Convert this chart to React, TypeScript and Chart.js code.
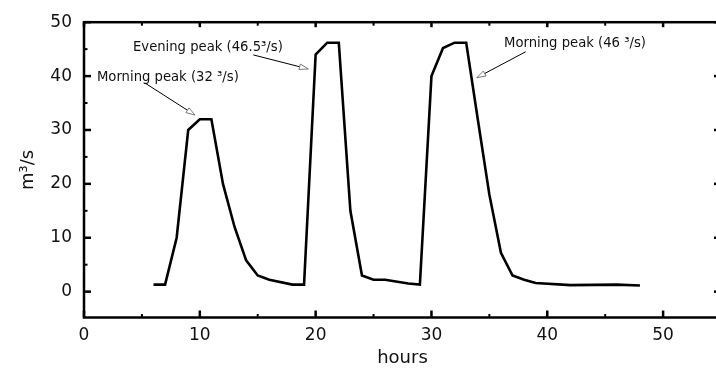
import React, { useEffect, useRef } from "react";
import { Chart, registerables } from "chart.js";

Chart.register(...registerables);

// ---- data ----
const HOURS = [6, 7, 8, 9, 10, 11, 12, 13, 14, 15, 16, 18, 19, 20, 21, 22, 23, 24, 25, 26, 28, 29, 30, 31, 32, 33, 34, 35, 36, 37, 38, 39, 42, 46, 48];
const FLOW = [1.3, 1.3, 10, 30, 32, 32, 20, 12, 5.8, 3, 2.2, 1.3, 1.3, 44, 46.2, 46.2, 15, 3, 2.2, 2.2, 1.5, 1.3, 40, 45.2, 46.2, 46.2, 32, 18, 7.2, 3, 2.2, 1.6, 1.2, 1.3, 1.15];

const X_TICKS = [0, 10, 20, 30, 40, 50];
const X_MINOR = [5, 15, 25, 35, 45];
const Y_TICKS = [0, 10, 20, 30, 40, 50];
const Y_MINOR = [5, 15, 25, 35, 45];

const X_TITLE = "hours";
const Y_TITLE = "m³/s";

const NOTE_TEXT = ["Morning peak (32 ³/s)", "Evening peak (46.5³/s)", "Morning peak (46 ³/s)"];
const NOTE_AT = [[1.12, 39.1], [4.23, 44.7], [36.27, 45.4]];
const ARROW_FROM = [[5.27, 38.7], [14.62, 43.93], [38.14, 44.52]];
const ARROW_TO = [[9.59, 32.76], [19.37, 41.32], [33.91, 39.7]];

const FONT = "'DejaVu Sans', Verdana, sans-serif";

const framePlugin = {
  id: "framePlugin",
  afterDraw(chart: any) {
    const { ctx, chartArea } = chart;
    const xs = chart.scales.x;
    const ys = chart.scales.y;
    const { left, right, top, bottom } = chartArea;
    ctx.save();
    ctx.strokeStyle = "#000";
    ctx.lineWidth = 2.5;
    ctx.lineCap = "butt";
    ctx.strokeRect(left, top, right - left, bottom - top);

    const tick = (x1: number, y1: number, x2: number, y2: number, w: number) => {
      ctx.lineWidth = w;
      ctx.beginPath();
      ctx.moveTo(x1, y1);
      ctx.lineTo(x2, y2);
      ctx.stroke();
    };
    const MAJ = 7, MIN = 3.5;
    X_TICKS.forEach((v) => {
      const px = xs.getPixelForValue(v);
      tick(px, bottom, px, bottom - MAJ, 2.5);
      tick(px, top, px, top + 5, 2.5);
    });
    X_MINOR.forEach((v) => {
      const px = xs.getPixelForValue(v);
      tick(px, bottom, px, bottom - MIN, 2);
      tick(px, top, px, top + MIN, 2);
    });
    Y_TICKS.forEach((v) => {
      const py = ys.getPixelForValue(v);
      tick(left, py, left + MAJ, py, 2.5);
      tick(right, py, right - MAJ, py, 2.5);
    });
    Y_MINOR.forEach((v) => {
      const py = ys.getPixelForValue(v);
      tick(left, py, left + MIN, py, 2);
      tick(right, py, right - MIN, py, 2);
    });

    // annotations
    ctx.font = `13.2px ${FONT}`;
    ctx.fillStyle = "#111";
    ctx.textBaseline = "alphabetic";
    ctx.textAlign = "left";
    NOTE_TEXT.forEach((t, i) => {
      ctx.fillText(t, xs.getPixelForValue(NOTE_AT[i][0]), ys.getPixelForValue(NOTE_AT[i][1]));
    });
    ARROW_FROM.forEach((f, i) => {
      const x1 = xs.getPixelForValue(f[0]);
      const y1 = ys.getPixelForValue(f[1]);
      const x2 = xs.getPixelForValue(ARROW_TO[i][0]);
      const y2 = ys.getPixelForValue(ARROW_TO[i][1]);
      const ang = Math.atan2(y2 - y1, x2 - x1);
      const L = 9, H = 2.8;
      const bx = x2 - L * Math.cos(ang);
      const by = y2 - L * Math.sin(ang);
      ctx.strokeStyle = "#000";
      ctx.lineWidth = 1;
      ctx.beginPath();
      ctx.moveTo(x1, y1);
      ctx.lineTo(bx, by);
      ctx.stroke();
      ctx.beginPath();
      ctx.moveTo(x2, y2);
      ctx.lineTo(bx - H * Math.sin(ang), by + H * Math.cos(ang));
      ctx.lineTo(bx + H * Math.sin(ang), by - H * Math.cos(ang));
      ctx.closePath();
      ctx.fillStyle = "#fff";
      ctx.fill();
      ctx.strokeStyle = "#555";
      ctx.lineWidth = 0.8;
      ctx.stroke();
    });
    ctx.restore();
  },
};

export default function App() {
  const ref = useRef<HTMLCanvasElement | null>(null);
  useEffect(() => {
    document.body.style.margin = "0";
    document.documentElement.style.overflow = "hidden";
    document.body.style.overflow = "hidden";
    const canvas = ref.current;
    if (!canvas) return;
    const chart = new Chart(canvas, {
      type: "line",
      data: {
        datasets: [
          {
            data: HOURS.map((h, i) => ({ x: h, y: FLOW[i] })),
            borderColor: "#000",
            borderWidth: 2.6,
            pointRadius: 0,
            tension: 0,
            fill: false,
          },
        ],
      },
      options: {
        responsive: false,
        animation: false,
        devicePixelRatio: 1,
        layout: { padding: { top: 14.75, right: 3, left: 0, bottom: 0 } },
        plugins: { legend: { display: false }, tooltip: { enabled: false } },
        scales: {
          x: {
            type: "linear",
            min: 0,
            max: 55,
            grid: { display: false, drawTicks: false },
            border: { display: false },
            afterBuildTicks: (s: any) => {
              s.ticks = X_TICKS.map((v) => ({ value: v }));
            },
            afterFit: (s: any) => {
              s.height = 51.5;
            },
            ticks: { padding: 8, color: "#111", font: { family: FONT, size: 17 }, maxRotation: 0 },
            title: { display: true, text: X_TITLE, color: "#111", font: { family: FONT, size: 18 }, padding: { top: 0, bottom: 0 } },
          },
          y: {
            type: "linear",
            min: -4.8,
            max: 50,
            grid: { display: false, drawTicks: false },
            border: { display: false },
            afterBuildTicks: (s: any) => {
              s.ticks = Y_TICKS.map((v) => ({ value: v }));
            },
            afterFit: (s: any) => {
              s.width = 84;
            },
            ticks: { padding: 12, color: "#111", font: { family: FONT, size: 17 } },
            title: { display: true, text: Y_TITLE, color: "#111", font: { family: FONT, size: 18 }, padding: { top: 18, bottom: 0 } },
          },
        },
      },
      plugins: [framePlugin],
    });
    return () => chart.destroy();
  }, []);
  return (
    <div style={{ width: 724, height: 369, overflow: "hidden" }}>
      <canvas ref={ref} width={724} height={369} style={{ display: "block" }} />
    </div>
  );
}
